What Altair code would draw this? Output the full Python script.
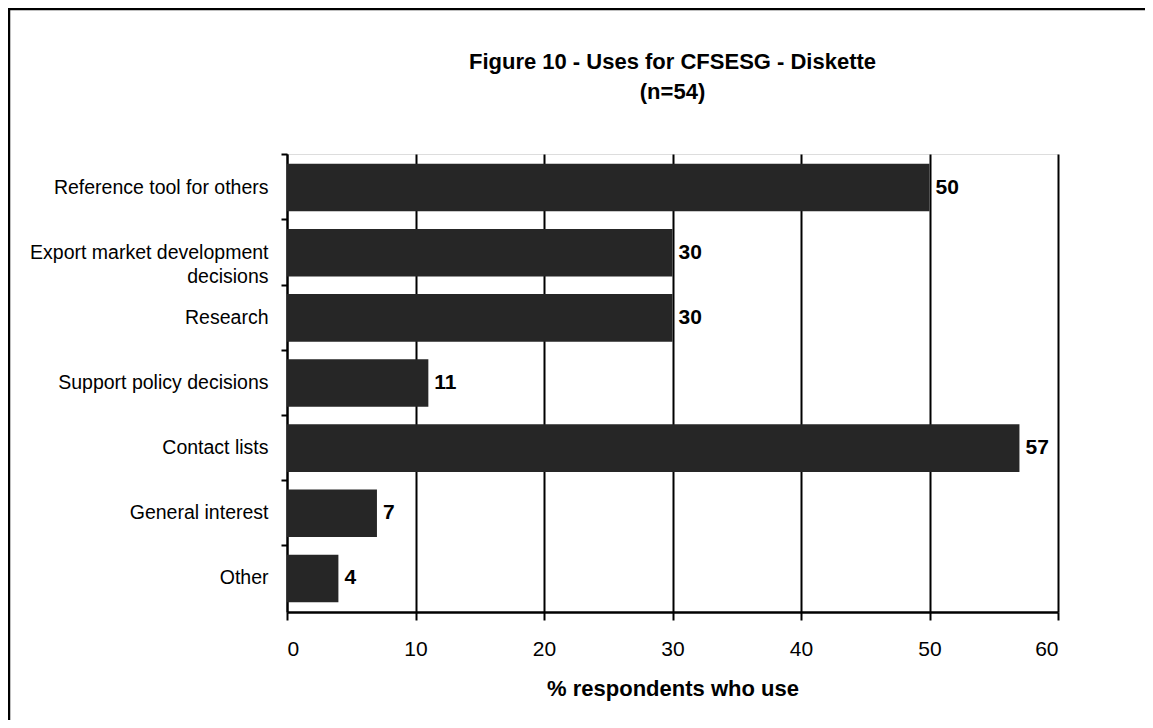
import altair as alt
import pandas as pd

title_lines = ["Figure 10 - Uses for CFSESG - Diskette", "(n=54)"]
categories = [
    "Reference tool for others",
    "Export market development|decisions",
    "Research",
    "Support policy decisions",
    "Contact lists",
    "General interest",
    "Other",
]
values = [50, 30, 30, 11, 57, 7, 4]
x_ticks = [0, 10, 20, 30, 40, 50, 60]
x_title = "% respondents who use"

df = pd.DataFrame({"use": categories, "pct": values})

FONT = "Liberation Sans"

y_enc = alt.Y(
    "use:N",
    sort=categories,
    scale=alt.Scale(paddingInner=0.27, paddingOuter=0.15),
    axis=alt.Axis(
        title=None,
        labelExpr="split(datum.label, '|')",
        labelFontSize=19.5,
        labelFont=FONT,
        labelColor="black",
        labelPadding=13,
        labelLineHeight=24,
        labelLimit=400,
        tickSize=6,
        tickWidth=2,
        tickColor="black",
        bandPosition=-0.19,
        domainColor="black",
        domainWidth=2,
        grid=False,
    ),
)

x_enc = alt.X(
    "pct:Q",
    scale=alt.Scale(domain=[0, 60], nice=False),
    axis=alt.Axis(
        values=x_ticks,
        title=x_title,
        titleFont=FONT,
        titleFontSize=22,
        titleFontWeight="bold",
        titleColor="black",
        titlePadding=19,
        labelFont=FONT,
        labelFontSize=21,
        labelColor="black",
        labelPadding=18,
        tickSize=8,
        tickWidth=2,
        tickColor="black",
        domainColor="black",
        domainWidth=2.5,
        grid=True,
        gridColor="black",
        gridWidth=2,
        gridOpacity=1,
    ),
)

bars = alt.Chart(df).mark_bar(color="#262626").encode(x=x_enc, y=y_enc)

labels = alt.Chart(df).mark_text(
    align="left", baseline="middle", dx=6, font=FONT, fontSize=21,
    fontWeight="bold", color="black"
).encode(x="pct:Q", y=alt.Y("use:N", sort=categories), text="pct:Q")

title_df = pd.DataFrame({"t": title_lines, "line": [0, 1]})
title1 = alt.Chart(title_df.iloc[[0]]).mark_text(
    align="center", baseline="alphabetic", font=FONT, fontSize=22,
    fontWeight="bold", color="black"
).encode(text="t:N", x=alt.value(385.5), y=alt.value(-85))
title2 = alt.Chart(title_df.iloc[[1]]).mark_text(
    align="center", baseline="alphabetic", font=FONT, fontSize=22,
    fontWeight="bold", color="black"
).encode(text="t:N", x=alt.value(385.5), y=alt.value(-55))

frame = alt.Chart(alt.Data(values=[{"k": 1}])).mark_rect(
    filled=False, stroke="black", strokeWidth=2.5
).encode(
    x=alt.value(-278), x2=alt.value(900), y=alt.value(-145), y2=alt.value(620)
)

chart = alt.layer(bars, labels, title1, title2, frame).properties(
    width=771,
    height=458,
    autosize=alt.AutoSizeParams(type="none"),
    padding={"left": 279, "top": 146, "right": 87, "bottom": 108},
).configure_view(stroke=None).configure(background="white")

chart.save("out.html", embed_options={"renderer": "svg", "actions": False})
